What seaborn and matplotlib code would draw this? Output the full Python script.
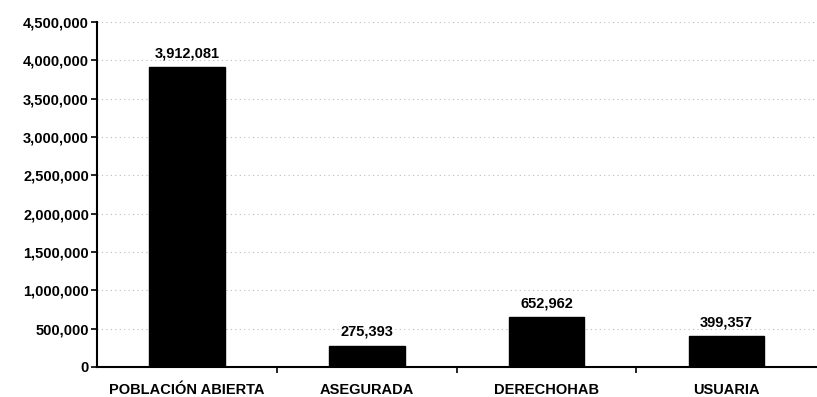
import matplotlib
matplotlib.use("Agg")
import matplotlib.pyplot as plt
import seaborn as sns
import pandas as pd

categorias = ["POBLACIÓN ABIERTA", "ASEGURADA", "DERECHOHAB", "USUARIA"]
poblacion = [3912081, 275393, 652962, 399357]
ticks_y = [0, 500000, 1000000, 1500000, 2000000, 2500000, 3000000,
           3500000, 4000000, 4500000]

df = pd.DataFrame({"categoria": categorias, "poblacion": poblacion})

sns.set_style("white")
plt.rcParams["font.family"] = ["Liberation Sans", "DejaVu Sans"]
plt.rcParams["text.color"] = "black"
plt.rcParams["xtick.color"] = "black"
plt.rcParams["ytick.color"] = "black"
plt.rcParams["xtick.labelcolor"] = "black"
plt.rcParams["ytick.labelcolor"] = "black"

fig = plt.figure(figsize=(8.17, 3.97), dpi=100)
ax = fig.add_axes([0.119, 0.0756, 0.880, 0.869])

sns.barplot(data=df, x="categoria", y="poblacion", color="black",
            width=0.42, saturation=1, ax=ax, edgecolor="black")

ax.set_yticks(ticks_y)
ax.set_yticklabels([f"{v:,}" for v in ticks_y], fontweight="bold")
ax.set_xlim(-0.5, len(categorias) - 0.5)
ax.set_ylim(0, 4500000)
ax.grid(axis="y", color="#bbbbbb", linestyle=(0, (1, 3)), linewidth=0.8)
ax.set_axisbelow(True)

for s in ["top", "right"]:
    ax.spines[s].set_visible(False)
for s in ["left", "bottom"]:
    ax.spines[s].set_color("black")
    ax.spines[s].set_linewidth(1.5)

ax.tick_params(axis="y", which="major", left=True, length=4, width=1.2,
               labelsize=10.5, pad=2, colors="black")

# category labels centred under bars, tick marks between categories
ax.tick_params(axis="x", which="major", bottom=False, labelsize=10.5, pad=8,
               colors="black")
ax.set_xticks(range(len(categorias)))
ax.set_xticklabels(categorias, fontweight="bold")
ax.set_xticks([0.5, 1.5, 2.5], minor=True)
ax.tick_params(axis="x", which="minor", bottom=True, length=4, width=1.2,
               color="black")

for i, v in enumerate(poblacion):
    ax.text(i, v + 90000, f"{v:,}", ha="center", va="bottom",
            fontsize=10.5, fontweight="bold", color="black")

ax.set_xlabel("")
ax.set_ylabel("")

fig.savefig("out.png", dpi=100)
